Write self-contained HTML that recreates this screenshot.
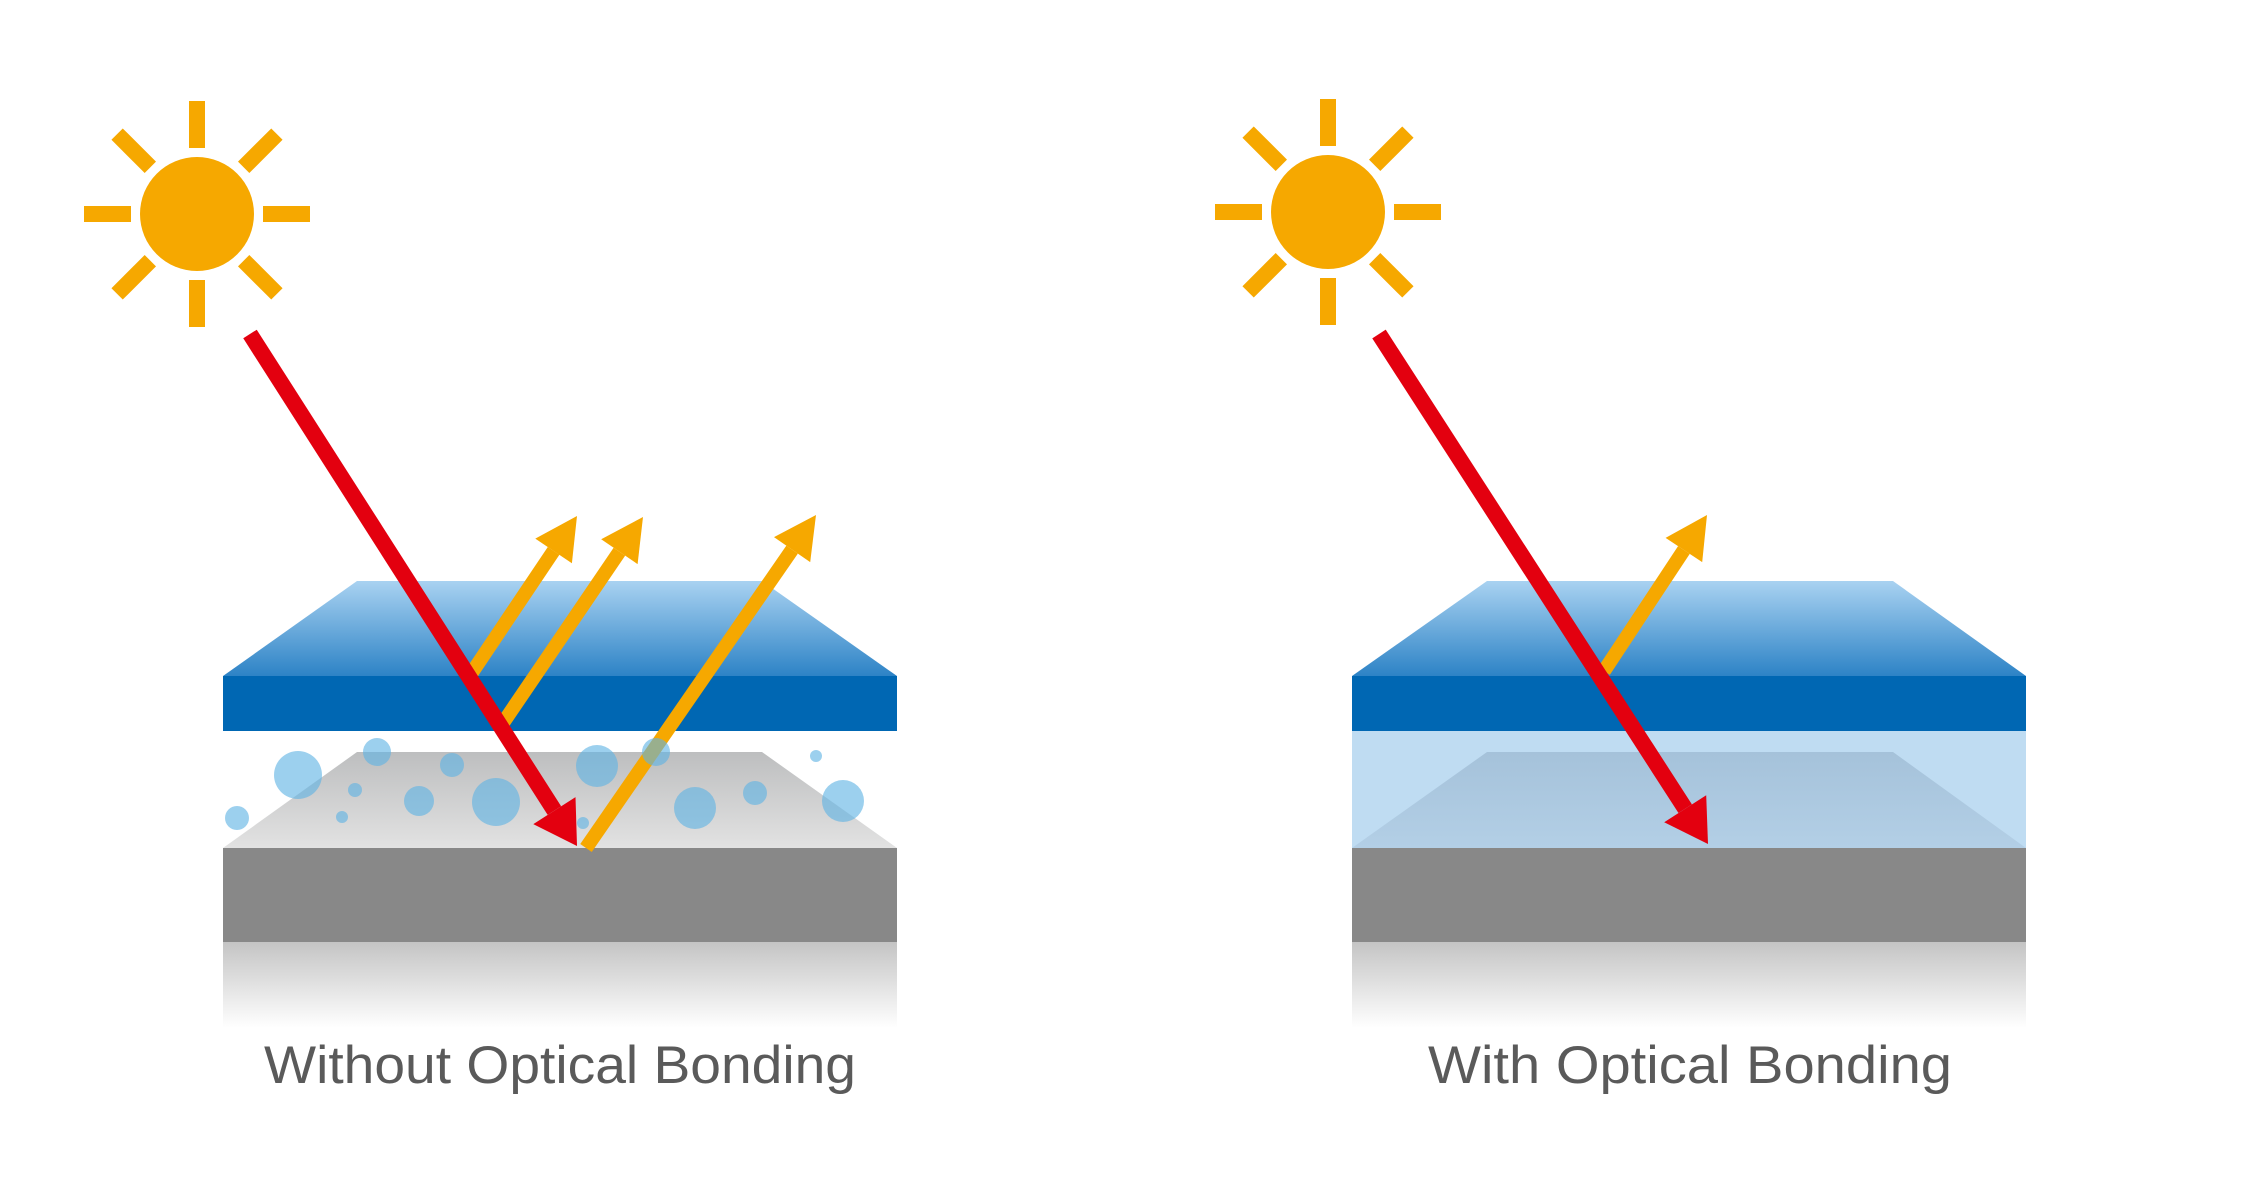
<!DOCTYPE html>
<html><head><meta charset="utf-8"><style>html,body{margin:0;padding:0;background:#fff}svg{display:block}</style></head>
<body>
<svg width="2244" height="1181" viewBox="0 0 2244 1181" xmlns="http://www.w3.org/2000/svg">
<defs>
<linearGradient id="top" x1="0" y1="0" x2="0" y2="1"><stop offset="0" stop-color="#a9d2f1"/><stop offset="1" stop-color="#2d83c6"/></linearGradient>
<linearGradient id="gface" x1="0" y1="0" x2="0" y2="1"><stop offset="0" stop-color="#bdbebf"/><stop offset="1" stop-color="#e2e2e2"/></linearGradient>
<linearGradient id="bface" x1="0" y1="0" x2="0" y2="1"><stop offset="0" stop-color="#a5c2da"/><stop offset="1" stop-color="#b3cfe6"/></linearGradient>
<linearGradient id="refl" x1="0" y1="0" x2="0" y2="1"><stop offset="0" stop-color="#c4c4c4"/><stop offset="1" stop-color="#ffffff"/></linearGradient>
<g id="sun">
<circle cx="0" cy="0" r="57" fill="#f6a800"/>
<g fill="#f6a800">
<rect x="-8" y="-113" width="16" height="47"/>
<rect x="-8" y="-113" width="16" height="47" transform="rotate(45)"/>
<rect x="-8" y="-113" width="16" height="47" transform="rotate(90)"/>
<rect x="-8" y="-113" width="16" height="47" transform="rotate(135)"/>
<rect x="-8" y="-113" width="16" height="47" transform="rotate(180)"/>
<rect x="-8" y="-113" width="16" height="47" transform="rotate(225)"/>
<rect x="-8" y="-113" width="16" height="47" transform="rotate(270)"/>
<rect x="-8" y="-113" width="16" height="47" transform="rotate(315)"/>
</g>
</g>
</defs>

<!-- LEFT PANEL -->
<use href="#sun" x="197" y="214"/>
<polygon points="357,581 762,581 897,676 223,676" fill="url(#top)"/>
<rect x="223" y="676" width="674" height="55" fill="#0067b3"/>
<polygon points="357,752 762,752 897,848 223,848" fill="url(#gface)"/>
<rect x="223" y="848" width="674" height="94" fill="#888888"/>
<rect x="223" y="942" width="674" height="86" fill="url(#refl)"/>

<g stroke="#f6a800" stroke-width="14" fill="#f6a800">
<line x1="471" y1="674" x2="553.6" y2="550.9"/>
<polygon stroke="none" points="577,516 571.9,563.2 535.3,538.6"/>
<line x1="503" y1="723" x2="619.4" y2="551.7"/>
<polygon stroke="none" points="643,517 637.6,564.1 601.2,539.3"/>
<line x1="586" y1="848" x2="792.1" y2="549.6"/>
<polygon stroke="none" points="816,515 810.2,562.1 774,537.1"/>
</g>
<g fill="#e3000f" stroke="#e3000f" stroke-width="16">
<line x1="250" y1="334" x2="554.4" y2="810.6"/>
<polygon stroke="none" points="577,846 533.3,824.1 575.5,797.1"/>
</g>

<g fill="#5fb3e3" fill-opacity="0.62">
<circle cx="298" cy="775" r="24"/>
<circle cx="377" cy="752" r="14"/>
<circle cx="452" cy="765" r="12"/>
<circle cx="597" cy="766" r="21"/>
<circle cx="656" cy="752" r="14"/>
<circle cx="496" cy="802" r="24"/>
<circle cx="419" cy="801" r="15"/>
<circle cx="355" cy="790" r="7"/>
<circle cx="342" cy="817" r="6"/>
<circle cx="237" cy="818" r="12"/>
<circle cx="583" cy="823" r="6"/>
<circle cx="695" cy="808" r="21"/>
<circle cx="755" cy="793" r="12"/>
<circle cx="816" cy="756" r="6"/>
<circle cx="843" cy="801" r="21"/>
</g>

<text x="560" y="1083" text-anchor="middle" font-family="Liberation Sans, sans-serif" font-size="53" fill="#5a5a5a" textLength="592" lengthAdjust="spacingAndGlyphs">Without Optical Bonding</text>

<!-- RIGHT PANEL -->
<use href="#sun" x="1328" y="212"/>
<polygon points="1487,581 1893,581 2026,676 1352,676" fill="url(#top)"/>
<rect x="1352" y="676" width="674" height="55" fill="#0067b3"/>
<rect x="1352" y="731" width="674" height="117" fill="#bfdcf2"/>
<polygon points="1487,752 1893,752 2026,848 1352,848" fill="url(#bface)"/>
<rect x="1352" y="848" width="674" height="94" fill="#888888"/>
<rect x="1352" y="942" width="674" height="86" fill="url(#refl)"/>

<g stroke="#f6a800" stroke-width="14" fill="#f6a800">
<line x1="1604" y1="671" x2="1683.9" y2="550"/>
<polygon stroke="none" points="1707,515 1702.2,562.1 1665.6,537.9"/>
</g>
<g fill="#e3000f" stroke="#e3000f" stroke-width="16">
<line x1="1379" y1="334" x2="1685.2" y2="808.7"/>
<polygon stroke="none" points="1708,844 1664.2,822.3 1706.2,795.2"/>
</g>

<text x="1690" y="1083" text-anchor="middle" font-family="Liberation Sans, sans-serif" font-size="53" fill="#5a5a5a" textLength="524" lengthAdjust="spacingAndGlyphs">With Optical Bonding</text>
</svg>
</body></html>
